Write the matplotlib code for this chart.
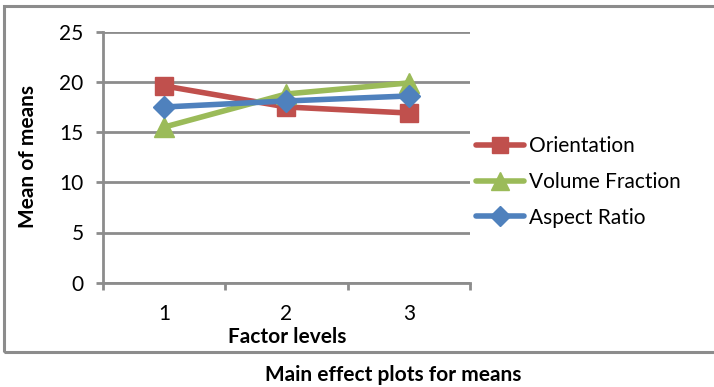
import matplotlib
matplotlib.use("Agg")
import matplotlib.pyplot as plt
from matplotlib.patches import Rectangle
from matplotlib.ticker import FixedLocator

plt.rcParams['font.family'] = ['Lato', 'DejaVu Sans']

levels = [1, 2, 3]
level_labels = ["1", "2", "3"]
orientation = [19.6, 17.5, 16.9]
volume_fraction = [15.5, 18.8, 19.9]
aspect_ratio = [17.5, 18.1, 18.6]
y_ticks = [0, 5, 10, 15, 20, 25]

W, H = 714, 387
fig = plt.figure(figsize=(W / 100, H / 100), dpi=100)

# chart border
fig.patches.append(Rectangle((4 / W, 1 - 352 / H), (716 - 4) / W, (352 - 6) / H,
                             transform=fig.transFigure, fill=False,
                             edgecolor="#8c8c8c", linewidth=2.2, zorder=0))

ax = fig.add_axes([103 / W, 1 - 282.7 / H, (470 - 103) / W, (282.7 - 31.7) / H])

grid_c = "#8c8c8c"
series = [
    ("Orientation", orientation, "#C0504D", "s", 13),
    ("Volume Fraction", volume_fraction, "#9BBB59", "^", 14),
    ("Aspect Ratio", aspect_ratio, "#4F81BD", "D", 11),
]
for i, (name, vals, col, mk, ms) in enumerate(series):
    ax.plot(levels, vals, color=col, lw=4, marker=mk, markersize=ms,
            markeredgecolor=col, label=name, zorder=3 + i, clip_on=False,
            solid_capstyle="round")

ax.set_xlim(0.5, 3.5)
ax.set_ylim(0, 25)
ax.set_yticks(y_ticks)
ax.set_xticks(levels)
ax.set_xticklabels(level_labels)
ax.xaxis.set_minor_locator(FixedLocator([0.5, 1.5, 2.5, 3.5]))
ax.tick_params(axis="x", which="major", length=0, pad=15, labelsize=15)
ax.tick_params(axis="x", which="minor", length=5, width=2, color=grid_c, direction="out")
ax.tick_params(axis="y", length=5, width=2, color=grid_c, pad=9, labelsize=15)

ax.grid(axis="y", color=grid_c, lw=2, zorder=1)
ax.set_axisbelow(True)
for s in ["top", "right"]:
    ax.spines[s].set_visible(False)
ax.spines["left"].set_color(grid_c)
ax.spines["left"].set_linewidth(2)
ax.spines["bottom"].set_color(grid_c)
ax.spines["bottom"].set_linewidth(2)

fig.text(28 / W, 1 - 157 / H, "Mean of means", rotation=90, ha="center", va="center",
         fontsize=15, fontweight="bold")
fig.text(287 / W, 1 - 337 / H, "Factor levels", ha="center", va="center",
         fontsize=15, fontweight="bold")
fig.text(393 / W, 1 - 375 / H, "Main effect plots for means", ha="center", va="center",
         fontsize=15, fontweight="bold")

leg = ax.legend(loc="center left", bbox_to_anchor=(476 / W, 1 - 182 / H),
                bbox_transform=fig.transFigure, frameon=False, fontsize=15,
                handlelength=2.3, handletextpad=0.25, labelspacing=0.75,
                borderaxespad=0, borderpad=0, markerscale=0.9)

fig.savefig("out.png", dpi=100)
